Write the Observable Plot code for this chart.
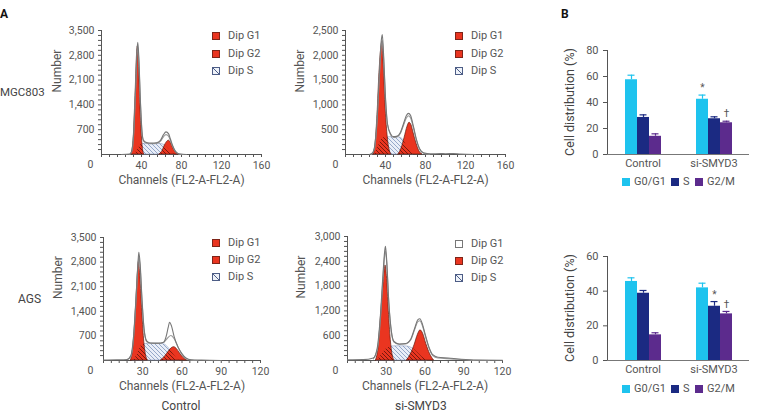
<!DOCTYPE html>
<html><head><meta charset="utf-8">
<script src="https://cdn.jsdelivr.net/npm/d3@7"></script>
<script src="https://cdn.jsdelivr.net/npm/@observablehq/plot@0.6"></script>
<style>
body{margin:0;background:#fff;font-family:Roboto,sans-serif;}
#fig{position:relative;width:763px;height:415px;overflow:hidden;background:#fff;}
.lbl{position:absolute;font-size:12px;line-height:14px;color:#444;white-space:nowrap;}
.leg{position:absolute;font-size:11px;line-height:12px;color:#555;display:flex;align-items:center;white-space:nowrap;}
.sw{display:inline-block;width:8px;height:8px;box-sizing:border-box;}
</style></head><body>
<svg width="0" height="0" style="position:absolute"><defs>
<pattern id="hatchLight" patternUnits="userSpaceOnUse" width="4" height="4">
<rect width="4" height="4" fill="#e9eef8"/>
<path d="M-1,-1L5,5M3,-1L5,1M-1,3L1,5" stroke="#7a90ba" stroke-width="0.75"/>
</pattern>
<pattern id="hatchDark" patternUnits="userSpaceOnUse" width="4" height="4">
<path d="M-1,-1L5,5M3,-1L5,1M-1,3L1,5" stroke="#5b1208" stroke-width="0.8"/>
</pattern>
</defs></svg>
<div id="fig"></div>
<script>
// ---------- Panel A data: flow cytometry histograms [channel, count] ----------
const mgcCtrlData = [[20,0],[28,10],[30,80],[32,550],[34,1850],[35.5,2950],[36.3,3170],[37.3,2750],[39,1450],[40.5,650],[42,400],[45,340],[50,320],[55,330],[59,400],[62,560],[64.5,640],[67,590],[69,430],[71,260],[74,90],[78,15],[85,0]];
const mgcCtrlFit  = [[28,0],[30,60],[32,480],[34,1750],[35.5,2850],[36.3,3050],[37.3,2650],[39,1400],[40.5,620],[42,380],[45,320],[50,305],[55,315],[59,380],[62,500],[64.5,560],[67,520],[69,390],[71,240],[74,80],[78,10],[82,0]];
const mgcCtrlG1   = [[30,0],[32,380],[34,1650],[35.5,2800],[36.3,3050],[37.3,2600],[39,1300],[40.5,450],[42,60],[43,0]];
const mgcCtrlS    = [[33,0],[36,120],[39,260],[42,300],[50,295],[58,300],[62,280],[66,180],[70,60],[73,0]];
const mgcCtrlG2   = [[58,0],[61,100],[63.5,260],[66,370],[67.5,390],[69.5,320],[72,160],[74.5,50],[77,0]];

const mgcSiData = [[24,0],[27,30],[29,150],[31.5,700],[34,1700],[35.8,2300],[36.8,2420],[38,2050],[40,1150],[42,620],[45,420],[48,360],[51,365],[55,450],[58,620],[61,790],[63,830],[65,790],[68,560],[71,300],[74,120],[78,35],[85,12],[95,20],[100,15],[108,20],[115,8],[130,0]];
const mgcSiFit  = [[26,0],[29,120],[31.5,650],[34,1620],[35.8,2200],[36.8,2300],[38,1980],[40,1100],[42,600],[45,400],[48,345],[51,350],[55,430],[58,590],[61,740],[63,780],[65,740],[68,530],[71,280],[74,110],[78,25],[84,0]];
const mgcSiG1   = [[28,0],[30,200],[32,800],[34,1650],[35.8,2150],[36.8,2270],[38,1900],[40,1000],[42,400],[44,100],[46,0]];
const mgcSiS    = [[29,0],[32,120],[35,260],[38,340],[45,350],[52,350],[56,330],[59,250],[62,140],[66,30],[68,0]];
const mgcSiG2   = [[53,0],[56,120],[59,330],[62,560],[64,640],[66,590],[68,440],[71,220],[74,60],[77,0]];

const agsCtrlData = [[0,15],[10,20],[18,30],[21,150],[23,700],[25,1900],[26.3,2750],[27,3080],[28,2750],[29.5,1700],[31,900],[33,560],[36,500],[42,495],[46,520],[48,700],[49.5,950],[50.5,1090],[52,980],[54,680],[57,380],[60,190],[63,70],[67,20],[75,10],[90,0]];
const agsCtrlFit  = [[18,20],[21,120],[23,650],[25,1800],[26.3,2650],[27,2950],[28,2650],[29.5,1650],[31,880],[33,540],[36,490],[42,485],[46,520],[49,640],[51.5,710],[54,620],[57,380],[60,180],[63,60],[67,10],[72,0]];
const agsCtrlG1   = [[21,0],[23,450],[25,1600],[26.3,2500],[27,2800],[28,2500],[29.5,1500],[31,600],[32.5,150],[34,0]];
const agsCtrlS    = [[23,0],[26,180],[29,420],[32,470],[38,480],[44,475],[47,450],[50,350],[53,200],[56,60],[58,0]];
const agsCtrlG2   = [[44,0],[47,110],[50,260],[52.5,360],[54,380],[56,330],[58.5,200],[61,80],[64,0]];

const agsSiData = [[0,15],[12,20],[20,60],[23,300],[25.5,1100],[27.5,2100],[28.8,2650],[29.4,2760],[30.3,2450],[32,1400],[34,700],[36,460],[40,400],[45,410],[49,520],[52,780],[54.5,990],[56,1010],[58,880],[60,650],[63,330],[66,140],[70,80],[78,60],[88,30],[100,10],[120,5]];
const agsSiFit  = [[20,40],[23,250],[25.5,1000],[27.5,2000],[28.8,2550],[29.4,2650],[30.3,2380],[32,1380],[34,680],[36,445],[40,390],[45,400],[49,500],[52,750],[54.5,940],[56,960],[58,840],[60,620],[63,310],[66,120],[70,60],[80,40],[95,10],[110,0]];
const agsSiG1   = [[22,0],[24,300],[26,1100],[28,1900],[29.4,2300],[30.5,2050],[32,1200],[33.5,500],[35,120],[36.5,0]];
const agsSiS    = [[23,0],[26,120],[30,280],[34,340],[40,345],[46,340],[50,300],[54,200],[58,80],[62,0]];
const agsSiG2   = [[46,0],[49,150],[52,380],[54.5,620],[56.5,730],[58.5,650],[61,400],[64,150],[67,0]];

// tick labels
const xMajor160 = [40, 80, 120, 160];
const xMajor120 = [30, 60, 90, 120];
const yMajorMgcCtrl = [700, 1400, 2100, 2800, 3500];
const yMajorMgcSi   = [500, 1000, 1500, 2000, 2500];
const yMajorAgsCtrl = [700, 1400, 2100, 2800, 3500];
const yMajorAgsSi   = [600, 1200, 1800, 2400, 3000];
const dipLabels = ["Dip G1", "Dip G2", "Dip S"];

// ---------- Panel B data: cell distribution (%) ----------
const groups = ["Control", "si-SMYD3"];
const phases = ["G0/G1", "S", "G2/M"];
const phaseColors = ["#1ec3ee", "#1b2a82", "#5c2b8d"];
const mgcControl = [57.5, 28.5, 14.0];
const mgcControlErr = [3.5, 2.0, 1.9];
const mgcSi = [42.5, 27.5, 24.4];
const mgcSiErr = [3.2, 1.5, 1.2];
const mgcSig = [["", "", ""], ["*", "", "†"]];
const agsControl = [45.6, 38.8, 14.8];
const agsControlErr = [2.1, 1.6, 1.2];
const agsSi = [41.9, 31.3, 26.9];
const agsSiErr = [2.7, 2.7, 1.4];
const agsSig = [["", "", ""], ["", "*", "†"]];
const bYTicksTop = [0, 20, 40, 60, 80];
const bYTicksBottom = [0, 20, 40, 60];

const fig = document.getElementById("fig");
const NS = "http://www.w3.org/2000/svg";
const fmt = d3.format(",");
const baseStyle = {fontFamily: "Roboto, sans-serif", fontSize: "10.5px", color: "#555", background: "transparent", overflow: "visible"};

function place(el, left, top) {
  el.style.position = "absolute";
  el.style.left = left + "px";
  el.style.top = top + "px";
  fig.appendChild(el);
}

function histo(cfg) {
  const toObj = a => a.map(([ch, n]) => ({ch, n}));
  const g1 = toObj(cfg.g1), g2 = toObj(cfg.g2), s = toObj(cfg.s), data = toObj(cfg.data), fit = toObj(cfg.fit);
  const xMinor = d3.range(0, cfg.xMax + 0.01, cfg.xStep);
  const yMinor = d3.range(cfg.yStep, cfg.yMax + 0.01, cfg.yStep);
  const svg = Plot.plot({
    width: cfg.w, height: cfg.h,
    marginLeft: cfg.ml, marginRight: cfg.mr, marginTop: cfg.mt, marginBottom: cfg.mb,
    style: baseStyle,
    x: {domain: [0, cfg.xMax], ticks: xMinor, tickFormat: d => cfg.xMajor.includes(d) ? String(d) : "", tickSize: 3, tickPadding: 4, line: true, label: null},
    y: {domain: [0, cfg.yMax], ticks: yMinor, tickFormat: d => cfg.yMajor.includes(d) ? fmt(d) : "", tickSize: 3, tickPadding: 4, line: true, label: null},
    marks: [
      Plot.areaY(s, {x: "ch", y: "n", fill: "url(#hatchLight)", stroke: "#8093b8", strokeWidth: 0.5, curve: "monotone-x"}),
      Plot.areaY(g1, {x: "ch", y: "n", fill: "#ea3520", stroke: "#5e1a10", strokeWidth: 0.7, curve: "monotone-x"}),
      Plot.areaY(g2, {x: "ch", y: "n", fill: "#ea3520", stroke: "#5e1a10", strokeWidth: 0.7, curve: "monotone-x"}),
      Plot.areaY(s, {x: "ch", y: "n", fill: "url(#hatchDark)", curve: "monotone-x"}),
      Plot.line(fit, {x: "ch", y: "n", stroke: "#9a9a9a", strokeWidth: 1.1, curve: "monotone-x"}),
      Plot.line(data, {x: "ch", y: "n", stroke: "#777", strokeWidth: 1.1, curve: "monotone-x"}),
      Plot.text([0], {x: d => d, y: d => d, text: d => String(d), dx: cfg.zdx, dy: 10}),
      Plot.text(["Channels (FL2-A-FL2-A)"], {frameAnchor: "bottom", text: d => d, dy: 29, fontSize: 12}),
      Plot.text(["Number"], {frameAnchor: "left", text: d => d, rotate: -90, dx: cfg.ylab, fontSize: 12})
    ]
  });
  // clip the dark hatching to the red G1/G2 peaks
  const areas = svg.querySelectorAll('g[aria-label="area"]');
  if (areas.length >= 4) {
    const cp = document.createElementNS(NS, "clipPath");
    cp.setAttribute("id", "clip-" + cfg.key);
    [areas[1], areas[2]].forEach(g => g.querySelectorAll("path").forEach(p => {
      cp.appendChild(p.cloneNode(false));
    }));
    let defs = svg.querySelector("defs");
    if (!defs) { defs = document.createElementNS(NS, "defs"); svg.insertBefore(defs, svg.firstChild); }
    defs.appendChild(cp);
    areas[3].setAttribute("clip-path", `url(#clip-${cfg.key})`);
  }
  place(svg, cfg.left, cfg.top);
}

function dipLegend(left, top, gap, whiteG1) {
  dipLabels.forEach((lab, i) => {
    const d = document.createElement("div");
    d.className = "leg";
    const sw = document.createElement("span");
    sw.className = "sw";
    sw.style.marginRight = "8px";
    if (i === 2) {
      sw.style.border = "1px solid #4d5d86";
      sw.style.background = "linear-gradient(45deg, #eef2f9 42%, #4d5d86 42%, #4d5d86 58%, #eef2f9 58%)";
    } else if (i === 0 && whiteG1) {
      sw.style.border = "1px solid #777";
      sw.style.background = "#fff";
    } else {
      sw.style.border = "1px solid #7e2418";
      sw.style.background = "#ea3520";
    }
    d.appendChild(sw);
    d.appendChild(document.createTextNode(lab));
    place(d, left, top + i * gap);
  });
}

function bars(cfg) {
  const rows = [];
  groups.forEach((g, gi) => phases.forEach((p, pi) => rows.push({
    group: g, phase: p, v: cfg.vals[gi][pi], e: cfg.errs[gi][pi], sig: cfg.sig[gi][pi]
  })));
  const svg = Plot.plot({
    width: cfg.w, height: cfg.h,
    marginLeft: 62, marginRight: 14, marginTop: cfg.mt, marginBottom: cfg.mb,
    style: {...baseStyle, fontSize: "11px"},
    facet: {data: rows, x: "group"},
    fx: {domain: groups, padding: 0, label: null, axis: "bottom", tickSize: 0, tickPadding: 5},
    x: {domain: phases, axis: null, paddingInner: 0, paddingOuter: 1.27},
    y: {domain: cfg.yDomain, ticks: cfg.yTicks, tickSize: 4, tickPadding: 5, line: true, label: null},
    color: {domain: phases, range: phaseColors},
    marks: [
      Plot.barY(rows, {x: "phase", y: "v", fill: "phase"}),
      Plot.ruleX(rows, {x: "phase", y1: "v", y2: d => d.v + d.e, stroke: "phase", strokeWidth: 1.2}),
      Plot.tickY(rows, {x: "phase", y: d => d.v + d.e, stroke: "phase", strokeWidth: 1.2, insetLeft: 2.5, insetRight: 2.5}),
      Plot.text(rows, {filter: d => d.sig !== "", x: "phase", y: d => d.v + d.e, text: "sig", dy: -7, fill: "#555", fontSize: 10}),
      Plot.ruleY([0], {stroke: "#777"})
    ]
  });
  place(svg, cfg.left, cfg.top);
  // rotated axis title
  label("Cell distribution (%)", 570, cfg.ylabY, {rotate: true, size: 12.5});
  // legend
  const xs = [622, 671, 695];
  phases.forEach((p, i) => {
    const d = document.createElement("div");
    d.className = "leg";
    const sw = document.createElement("span");
    sw.className = "sw";
    sw.style.background = phaseColors[i];
    sw.style.marginRight = "4px";
    d.appendChild(sw);
    d.appendChild(document.createTextNode(p));
    place(d, xs[i], cfg.legTop);
  });
}

function label(text, x, y, opts = {}) {
  const d = document.createElement("div");
  d.className = "lbl";
  d.textContent = text;
  if (opts.size) d.style.fontSize = opts.size + "px";
  if (opts.bold) { d.style.fontWeight = "bold"; d.style.color = "#111"; }
  place(d, x, y);
  if (opts.align === "right") d.style.left = (x - d.offsetWidth) + "px";
  if (opts.align === "center") d.style.left = (x - d.offsetWidth / 2) + "px";
  if (opts.rotate) {
    d.style.left = (x - d.offsetWidth / 2) + "px";
    d.style.top = (y - d.offsetHeight / 2) + "px";
    d.style.transform = "rotate(-90deg)";
    d.style.transformOrigin = "50% 50%";
  }
}

// Panel A histograms
histo({key: "mc", left: 40, top: 0, w: 230, h: 200, ml: 61, mr: 9, mt: 30, mb: 46,
  xMax: 160, xStep: 8, xMajor: xMajor160, yMax: 3500, yStep: 140, yMajor: yMajorMgcCtrl,
  data: mgcCtrlData, fit: mgcCtrlFit, g1: mgcCtrlG1, g2: mgcCtrlG2, s: mgcCtrlS, zdx: -11, ylab: -44});
histo({key: "ms", left: 290, top: 0, w: 230, h: 200, ml: 55, mr: 15, mt: 30, mb: 46,
  xMax: 160, xStep: 8, xMajor: xMajor160, yMax: 2500, yStep: 100, yMajor: yMajorMgcSi,
  data: mgcSiData, fit: mgcSiFit, g1: mgcSiG1, g2: mgcSiG2, s: mgcSiS, zdx: -10, ylab: -45});
histo({key: "ac", left: 40, top: 205, w: 230, h: 210, ml: 63, mr: 10, mt: 32, mb: 55,
  xMax: 120, xStep: 6, xMajor: xMajor120, yMax: 3500, yStep: 140, yMajor: yMajorAgsCtrl,
  data: agsCtrlData, fit: agsCtrlFit, g1: agsCtrlG1, g2: agsCtrlG2, s: agsCtrlS, zdx: -13, ylab: -45});
histo({key: "as", left: 290, top: 205, w: 230, h: 210, ml: 57, mr: 18, mt: 31, mb: 55,
  xMax: 120, xStep: 6, xMajor: xMajor120, yMax: 3000, yStep: 120, yMajor: yMajorAgsSi,
  data: agsSiData, fit: agsSiFit, g1: agsSiG1, g2: agsSiG2, s: agsSiS, zdx: -12, ylab: -46});

dipLegend(212, 30, 17.5, false);
dipLegend(455, 30, 17.5, false);
dipLegend(212, 237, 17, false);
dipLegend(455, 238, 17, true);

// Panel B bar charts
bars({left: 545, top: 30, w: 218, h: 150, mt: 20, mb: 26, yDomain: [0, 80], yTicks: bYTicksTop,
  vals: [mgcControl, mgcSi], errs: [mgcControlErr, mgcSiErr], sig: mgcSig, legTop: 176, ylabY: 102});
bars({left: 545, top: 235, w: 218, h: 180, mt: 21, mb: 55, yDomain: [0, 60], yTicks: bYTicksBottom,
  vals: [agsControl, agsSi], errs: [agsControlErr, agsSiErr], sig: agsSig, legTop: 383, ylabY: 308});

// Row/column labels
label("A", 0, 7, {bold: true});
label("B", 561, 7, {bold: true});
label("MGC803", 0, 85, {size: 11.5});
label("AGS", 41, 292, {align: "right"});
label("Control", 181, 399, {align: "center"});
label("si-SMYD3", 421, 399, {align: "center"});
</script>
</body></html>
